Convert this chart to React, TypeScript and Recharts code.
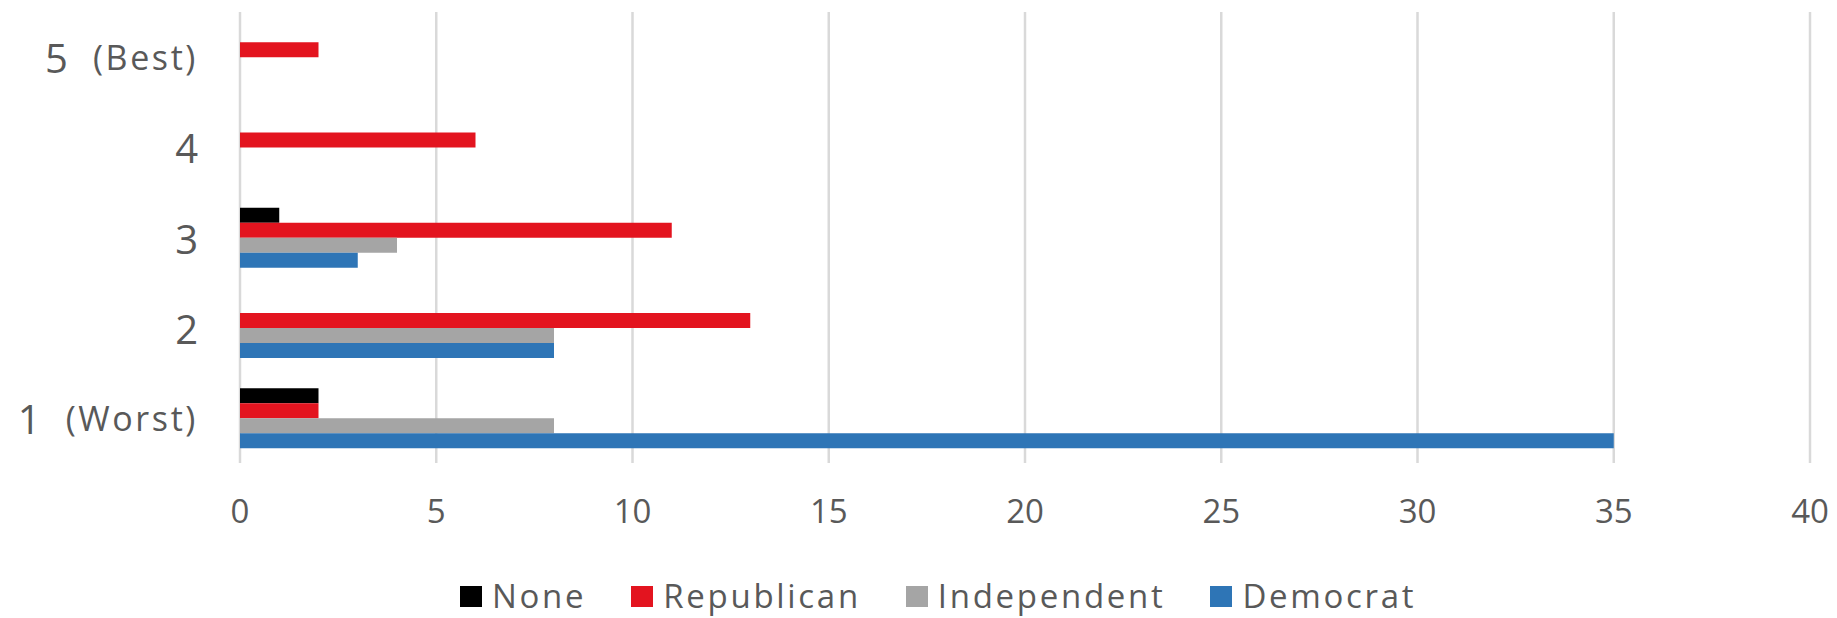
import React from "react";
import { BarChart, Bar, XAxis, YAxis, CartesianGrid, Legend } from "recharts";

// Categories top to bottom
const categoryMain = ["5", "4", "3", "2", "1"];
const categorySub = ["(Best)", "", "", "", "(Worst)"];

const noneValues = [0, 0, 1, 0, 2];
const republicanValues = [2, 6, 11, 13, 2];
const independentValues = [0, 0, 4, 8, 8];
const democratValues = [0, 0, 3, 8, 35];

const xTicks = [0, 5, 10, 15, 20, 25, 30, 35, 40];

const seriesNames = ["None", "Republican", "Independent", "Democrat"];
const seriesColors = ["#000000", "#E3141F", "#A5A5A5", "#2E75B6"];

const data = categoryMain.map((c, i) => ({
  cat: c,
  sub: categorySub[i],
  None: noneValues[i],
  Republican: republicanValues[i],
  Independent: independentValues[i],
  Democrat: democratValues[i],
}));

const FONT = "'Open Sans', sans-serif";
const TEXT = "#595959";

const YTick = (props: any) => {
  const { x, y, payload } = props;
  const idx = payload.index;
  const sub = categorySub[idx];
  return (
    <text
      x={x}
      y={y}
      textAnchor="end"
      dominantBaseline="central"
      fill={TEXT}
      fontFamily={FONT}
    >
      <tspan fontSize={40}>{payload.value}</tspan>
      {sub ? (
        <tspan fontSize={34} dx={25} letterSpacing={2.6}>
          {sub}
        </tspan>
      ) : null}
    </text>
  );
};

const LegendContent = () => (
  <div
    style={{
      display: "flex",
      alignItems: "center",
      height: 40,
      paddingLeft: 460,
      paddingBottom: 4,
      fontFamily: FONT,
      fontSize: 33,
      letterSpacing: 2.7,
      color: TEXT,
      whiteSpace: "nowrap",
      boxSizing: "border-box",
    }}
  >
    {seriesNames.map((n, i) => (
      <div
        key={n}
        style={{ display: "flex", alignItems: "center", marginRight: 45 }}
      >
        <div
          style={{
            width: 22,
            height: 21,
            background: seriesColors[i],
            marginRight: 10,
          }}
        />
        <span style={{ lineHeight: "36px" }}>{n}</span>
      </div>
    ))}
  </div>
);

export default function App() {
  return (
    <div
      style={{
        position: "absolute",
        left: 0,
        top: 0,
        width: 1837,
        height: 618,
        background: "#ffffff",
        overflow: "hidden",
      }}
    >
      <BarChart
        width={1837}
        height={618}
        data={data}
        layout="vertical"
        margin={{ top: 12, right: 27, bottom: 0, left: 0 }}
        barCategoryGap="17%"
        barGap={0}
      >
        <CartesianGrid
          horizontal={false}
          vertical={true}
          stroke="#D9D9D9"
          strokeWidth={2.5}
        />
        <XAxis
          type="number"
          domain={[0, 40]}
          ticks={xTicks}
          interval={0}
          axisLine={false}
          tickLine={false}
          tickSize={0}
          tickMargin={37}
          height={115}
          tick={{ fontSize: 33, fill: TEXT, fontFamily: FONT }}
        />
        <YAxis
          type="category"
          dataKey="cat"
          width={240}
          axisLine={false}
          tickLine={false}
          tickSize={0}
          tickMargin={42}
          interval={0}
          tick={<YTick />}
        />
        <Legend
          verticalAlign="bottom"
          content={<LegendContent />}
          wrapperStyle={{ left: 0, width: 1837, height: 40 }}
        />
        {seriesNames.map((n, i) => (
          <Bar
            key={n}
            dataKey={n}
            fill={seriesColors[i]}
            isAnimationActive={false}
          />
        ))}
      </BarChart>
    </div>
  );
}
